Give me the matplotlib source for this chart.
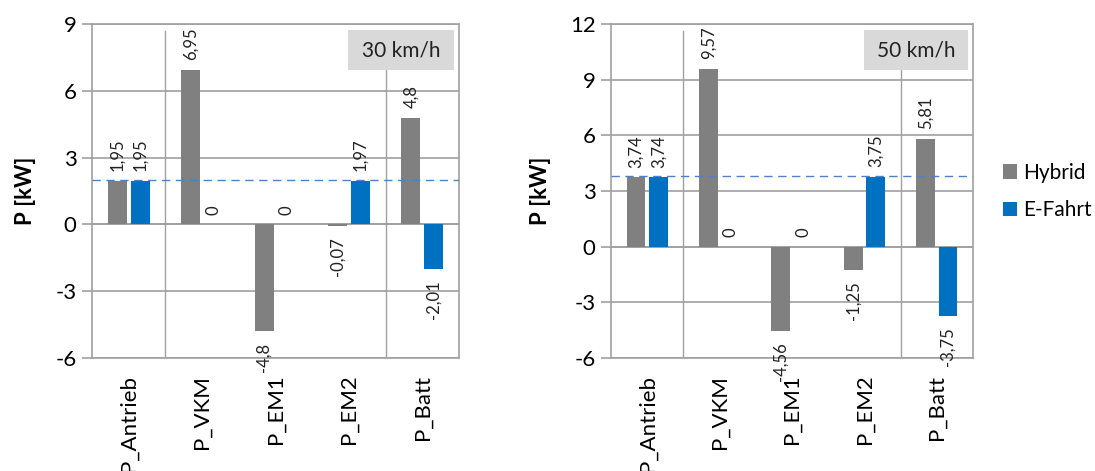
import matplotlib
matplotlib.use("Agg")
import matplotlib.pyplot as plt
import numpy as np
from matplotlib.patches import Patch, Rectangle

plt.rcParams['font.family'] = ['Lato', 'DejaVu Sans']

categories = ["P_Antrieb", "P_VKM", "P_EM1", "P_EM2", "P_Batt"]
hybrid_30 = [1.95, 6.95, -4.8, -0.07, 4.8]
efahrt_30 = [1.95, 0, 0, 1.97, -2.01]
hybrid_50 = [3.74, 9.57, -4.56, -1.25, 5.81]
efahrt_50 = [3.74, 0, 0, 3.75, -3.75]
ref_30 = 2.0
ref_50 = 3.8
titles = ["30 km/h", "50 km/h"]
yticks_30 = [-6, -3, 0, 3, 6, 9]
yticks_50 = [-6, -3, 0, 3, 6, 9, 12]
series_names = ["Hybrid", "E-Fahrt"]

GRAY = "#808080"
BLUE = "#0070c0"
GRID = "#a0a0a0"

fig = plt.figure(figsize=(10.95, 4.71), dpi=100)
ax1 = fig.add_axes([92 / 1095, 1 - 358 / 471, 367 / 1095, 334 / 471])
ax2 = fig.add_axes([611 / 1095, 1 - 358 / 471, 362 / 1095, 334 / 471])


def fmt(v):
    return f"{v:g}".replace('.', ',')


def draw(ax, h, e, ref, title, yticks):
    x = np.arange(len(categories))
    w = 0.26
    off = 0.155
    bh = ax.bar(x - off, h, w, color=GRAY, zorder=3)
    be = ax.bar(x + off, e, w, color=BLUE, zorder=3)
    for bars, vals in ((bh, h), (be, e)):
        for b, v in zip(bars, vals):
            cx = b.get_x() + b.get_width() / 2
            if v >= 0:
                ax.annotate(fmt(v), (cx, v), xytext=(0, 7), textcoords='offset points',
                            rotation=90, ha='center', va='bottom', fontsize=12, color='#222222', zorder=5)
            else:
                ax.annotate(fmt(v), (cx, v), xytext=(0, -8), textcoords='offset points',
                            rotation=90, ha='center', va='top', fontsize=12, color='#222222', zorder=5,
                            annotation_clip=False)
    ax.set_ylim(yticks[0], yticks[-1])
    ax.set_xlim(-0.5, len(categories) - 0.5)
    ax.set_yticks(yticks)
    ax.set_yticklabels([str(t) for t in yticks], fontsize=16)
    ax.yaxis.grid(True, color=GRID, linewidth=1.2, zorder=0)
    ax.axhline(0, color=GRID, linewidth=1.2, zorder=1)
    for xb in (0.5, 3.5):
        ax.axvline(xb, ymin=0, ymax=0.98, color=GRID, linewidth=1.0, zorder=1)
    ax.axhline(ref, color="#4f81c7", linestyle=(0, (6, 4)), linewidth=1.0, zorder=4)
    ax.set_xticks(x)
    ax.set_xticklabels(categories, rotation=90, fontsize=16)
    ax.tick_params(axis='x', length=0, pad=12)
    ax.tick_params(axis='y', length=7, color=GRID, width=1.2, pad=4)
    for s in ax.spines.values():
        s.set_color(GRID)
        s.set_linewidth(1.2)
    ax.set_ylabel("P [kW]", fontsize=16, fontweight='bold', labelpad=14)
    ax.add_patch(Rectangle((0.698, 0.862), 0.288, 0.12, transform=ax.transAxes,
                           facecolor='#d9d9d9', edgecolor='none', zorder=6))
    ax.text(0.842, 0.922, title, transform=ax.transAxes, ha='center', va='center',
            fontsize=15, color='#222222', zorder=7)


draw(ax1, hybrid_30, efahrt_30, ref_30, titles[0], yticks_30)
draw(ax2, hybrid_50, efahrt_50, ref_50, titles[1], yticks_50)

handles = [Patch(facecolor=GRAY), Patch(facecolor=BLUE)]
fig.legend(handles, series_names, loc='center left', bbox_to_anchor=(1003 / 1095, 1 - 191.5 / 471),
           frameon=False, fontsize=15, handlelength=0.68, handleheight=0.68,
           handletextpad=0.3, labelspacing=0.85, borderpad=0, borderaxespad=0)

fig.savefig("out.png", dpi=100)
